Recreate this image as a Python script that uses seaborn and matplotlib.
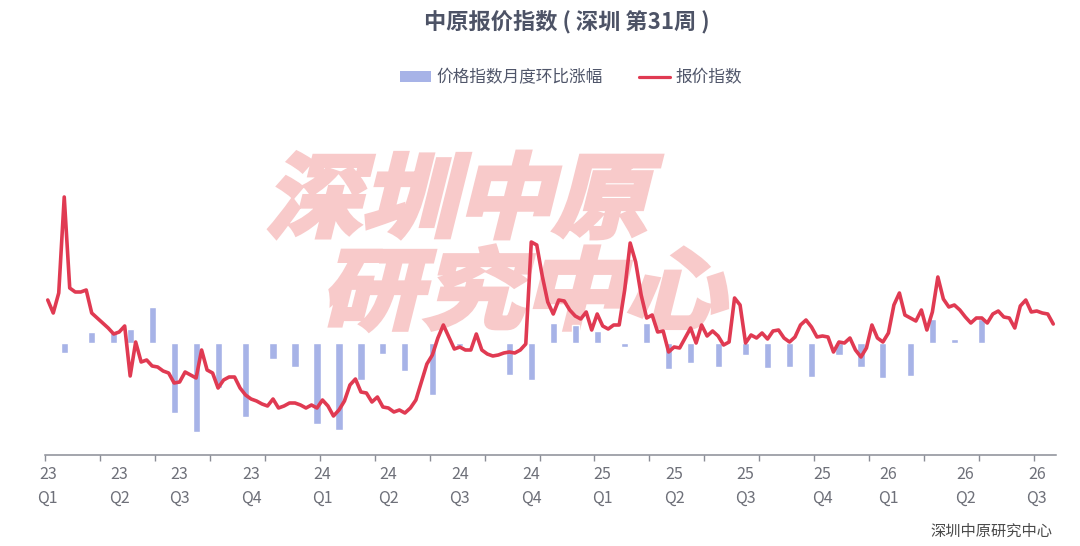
import numpy as np
import pandas as pd
import seaborn as sns
import matplotlib
matplotlib.use("Agg")
import matplotlib.pyplot as plt
from matplotlib.textpath import TextPath
from matplotlib.patches import PathPatch, Patch
from matplotlib.lines import Line2D
from matplotlib.font_manager import FontProperties
from matplotlib.transforms import Affine2D, IdentityTransform

# weekly quote index (184 weeks)
index_values = [
    65.5, 64.2, 66.2, 75.8, 66.7, 66.3, 66.3, 66.5, 64.2, 63.7,
    63.2, 62.7, 62.1, 62.3, 62.9, 57.9, 61.3, 59.3, 59.5, 58.9,
    58.8, 58.4, 58.2, 57.2, 57.3, 58.3, 58.0, 57.7, 60.5, 58.5,
    58.2, 56.7, 57.5, 57.8, 57.8, 56.7, 56.0, 55.6, 55.4, 55.1,
    54.9, 55.6, 54.7, 54.9, 55.2, 55.2, 55.0, 54.7, 55.0, 54.7,
    55.5, 54.9, 53.9, 54.5, 55.4, 57.0, 57.6, 56.3, 56.2, 55.3,
    55.8, 54.8, 54.7, 54.3, 54.5, 54.2, 54.7, 55.5, 57.3, 59.1,
    60.0, 61.7, 63.0, 61.8, 60.6, 60.8, 60.5, 60.5, 62.1, 60.5,
    60.1, 59.9, 60.0, 60.2, 60.3, 60.2, 60.5, 61.1, 71.3, 71.0,
    67.9, 65.3, 64.1, 65.5, 65.4, 64.5, 63.9, 63.6, 64.3, 62.5,
    64.1, 62.9, 62.6, 63.0, 63.0, 66.5, 71.2, 69.3, 66.0, 63.7,
    64.0, 62.3, 62.4, 60.3, 60.8, 60.7, 61.7, 62.7, 61.2, 63.0,
    61.9, 62.4, 61.9, 61.0, 61.3, 65.7, 65.0, 61.2, 62.0, 61.7,
    62.2, 61.6, 62.4, 62.5, 61.7, 61.3, 61.8, 63.0, 63.5, 62.8,
    61.8, 61.9, 61.8, 60.3, 61.3, 61.2, 61.7, 60.5, 59.8, 60.7,
    63.0, 61.7, 61.3, 62.2, 65.0, 66.2, 64.0, 63.7, 63.4, 64.5,
    62.5, 64.3, 67.8, 65.6, 64.8, 65.0, 64.5, 63.8, 63.2, 63.7,
    63.7, 63.2, 64.1, 64.4, 63.8, 63.7, 62.7, 64.9, 65.5, 64.3,
    64.4, 64.2, 64.1, 63.1,
]
weeks = list(range(len(index_values)))

# monthly change of price index (%), placed on the week it belongs to
bar_weeks = [3, 8, 12, 15, 19, 23, 27, 31, 36, 41, 45, 49, 53, 57, 61, 65,
             70, 75, 79, 84, 88, 92, 96, 100, 105, 109, 113, 117, 122, 127,
             131, 135, 139, 144, 148, 152, 157, 161, 165, 170]
bar_pct = [-0.28, 0.31, 0.31, 0.39, 1.00, -1.94, -2.47, -1.25, -2.06, -0.44,
           -0.67, -2.25, -2.42, -1.03, -0.31, -0.78, -1.44, -0.08, -0.03, -0.89,
           -1.03, 0.56, 0.50, 0.33, -0.11, 0.56, -0.72, -0.56, -0.67, -0.33,
           -0.69, -0.67, -0.94, -0.33, -0.67, -0.97, -0.92, 0.67, 0.11, 0.67]

label_weeks = [0, 13, 24, 37, 50, 62, 75, 88, 101, 114, 127, 141, 153, 167, 180]
quarter_labels = ["23\nQ1", "23\nQ2", "23\nQ3", "23\nQ4",
                  "24\nQ1", "24\nQ2", "24\nQ3", "24\nQ4",
                  "25\nQ1", "25\nQ2", "25\nQ3", "25\nQ4",
                  "26\nQ1", "26\nQ2", "26\nQ3"]

BAR_COLOR = "#a7b3e7"
LINE_COLOR = "#e03a52"
TEXT_COLOR = "#4d5366"
AXIS_COLOR = "#8a8d96"

sns.set_theme(style="white")
plt.rcParams["font.family"] = ["Noto Sans CJK SC", "DejaVu Sans"]

W, H = 1080, 546
fig = plt.figure(figsize=(W / 100, H / 100), dpi=100)
fig.patch.set_facecolor("white")

# watermark, slanted heavy text behind the chart
fp = FontProperties(family="Noto Sans CJK SC", weight="bold")
for txt, x_left, y_bottom, width, height in [("深圳中原", 266, 238, 376, 86),
                                             ("研究中心", 321, 330, 400, 84)]:
    tp = TextPath((0, 0), txt, size=100, prop=fp)
    ext = tp.get_extents()
    tr = (Affine2D().translate(-ext.x0, -ext.y0)
          .scale(width / ext.width, height / ext.height)
          .skew_deg(14, 0).translate(x_left, H - y_bottom))
    patch = PathPatch(tr.transform_path(tp), facecolor="#f8caca", edgecolor="#f8caca",
                      linewidth=3.5, joinstyle="miter",
                      transform=IdentityTransform(), zorder=-5)
    fig.patches.append(patch)

ax = fig.add_axes([45 / W, 91 / H, 1011 / W, 305 / H])
ax.patch.set_visible(False)

sns.barplot(x=bar_weeks, y=bar_pct, native_scale=True,
            width=1.3 / np.min(np.diff(bar_weeks)),
            color=BAR_COLOR, saturation=1, ax=ax)
ax.set_ylim(-112 / 36, 193 / 36)

ax2 = ax.twinx()
ax2.patch.set_visible(False)
df = pd.DataFrame({"week": weeks, "index": index_values})
sns.lineplot(data=df, x="week", y="index", ax=ax2, color=LINE_COLOR, linewidth=2.6)
ax2.set_ylim(50, 80.5)

for a in (ax, ax2):
    a.set_xlim(-0.5, len(weeks) - 0.5)
    a.set_ylabel("")
    a.set_xlabel("")
    a.set_yticks([])
    for side in ("top", "right", "left"):
        a.spines[side].set_visible(False)
ax2.spines["bottom"].set_visible(False)
ax.spines["bottom"].set_color(AXIS_COLOR)
ax.spines["bottom"].set_linewidth(1.1)

ax.set_xticks(label_weeks)
ax.set_xticklabels(quarter_labels, fontsize=11.5, color="#6e7079", linespacing=1.55)
ax.tick_params(axis="x", which="major", length=0, pad=8)
ax.set_xticks(np.arange(-0.5, len(weeks), 10), minor=True)
ax.tick_params(axis="x", which="minor", length=4, width=1, color=AXIS_COLOR, bottom=True)
ax2.tick_params(axis="x", length=0, labelbottom=False)

fig.text(567 / W, 1 - 22 / H, "中原报价指数 ( 深圳 第31周 )", ha="center", va="center",
         fontsize=16, fontweight="bold", color=TEXT_COLOR)

handles = [Patch(facecolor=BAR_COLOR, edgecolor="none"),
           Line2D([0], [0], color=LINE_COLOR, linewidth=2.3)]
fig.legend(handles, ["价格指数月度环比涨幅", "报价指数"], loc="center",
           bbox_to_anchor=(571 / W, 1 - 78 / H), ncol=2, frameon=False,
           fontsize=12, handlelength=1.86, handleheight=0.6, handletextpad=0.3,
           columnspacing=2.2, labelcolor="#50566a")

fig.text(1052 / W, 1 - 531 / H, "深圳中原研究中心", ha="right", va="center",
         fontsize=11, color="#4a4a4a")

fig.savefig("out.png", dpi=100)
